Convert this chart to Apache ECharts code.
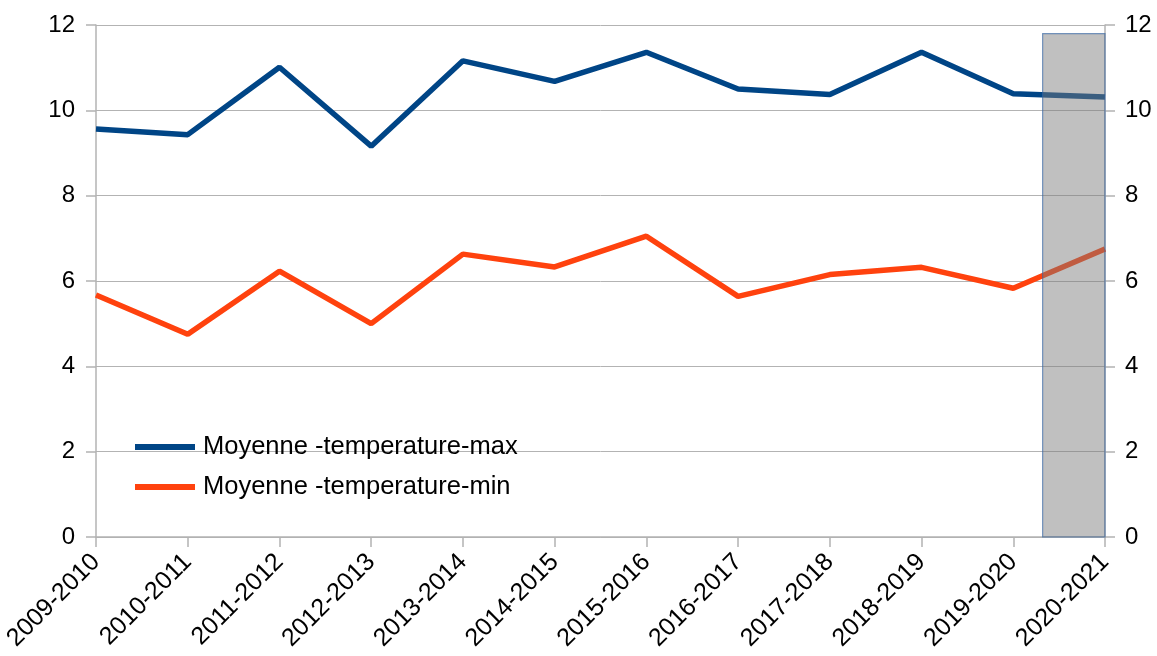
<!DOCTYPE html>
<html>
<head>
<meta charset="utf-8">
<script src="https://cdn.jsdelivr.net/npm/echarts@6/dist/echarts.min.js"></script>
<style>
  html, body { margin: 0; padding: 0; background: #fff; }
  #chart { width: 1157px; height: 656px; }
</style>
</head>
<body>
<div id="chart"></div>
<script>
// saisons
const seasons = ['2009-2010', '2010-2011', '2011-2012', '2012-2013', '2013-2014', '2014-2015',
  '2015-2016', '2016-2017', '2017-2018', '2018-2019', '2019-2020', '2020-2021'];
const tempMax = [9.56, 9.43, 11.01, 9.16, 11.16, 10.68, 11.36, 10.5, 10.37, 11.36, 10.39, 10.31];
const tempMin = [5.67, 4.75, 6.23, 5.0, 6.63, 6.33, 7.05, 5.64, 6.15, 6.32, 5.83, 6.75];
const yTicks = [0, 2, 4, 6, 8, 10, 12];
// zone grisee : [debut, fin, hauteur] en index de categorie
const highlight = [[10.32, 11, 11.8]];

const font = 'Liberation Sans, Arial, sans-serif';
const chart = echarts.init(document.getElementById('chart'));

chart.setOption({
  animation: false,
  grid: { left: 96, right: 52, top: 25, bottom: 119, outerBoundsMode: 'none', containLabel: false },
  legend: {
    left: 130, top: 429, orient: 'vertical', itemGap: 14,
    itemWidth: 60, itemHeight: 6, icon: 'rect',
    textStyle: { fontFamily: font, fontSize: 25.5, color: '#000', padding: [0, 0, 0, 3] },
    data: ['Moyenne -temperature-max', 'Moyenne -temperature-min']
  },
  xAxis: [{
    type: 'category', data: seasons, boundaryGap: false,
    axisLine: { lineStyle: { color: '#b3b3b3', width: 1.5 } },
    axisTick: { show: true, length: 10, lineStyle: { color: '#b3b3b3', width: 1.5 } },
    axisLabel: { rotate: 45, fontFamily: font, fontSize: 25, color: '#000', margin: 21, interval: 0 },
    splitLine: { show: false }
  }, {
    type: 'value', min: 0, max: seasons.length - 1, show: false
  }],
  yAxis: [{
    type: 'value', min: 0, max: 12, interval: 2,
    axisLine: { show: true, lineStyle: { color: '#b3b3b3', width: 1.5 } },
    axisTick: { show: true, length: 10, lineStyle: { color: '#b3b3b3', width: 1.5 } },
    axisLabel: { fontFamily: font, fontSize: 24, color: '#000', margin: 21 },
    splitLine: { lineStyle: { color: '#b3b3b3', width: 1 } }
  }, {
    type: 'value', min: 0, max: 12, interval: 2, position: 'right',
    axisLine: { show: true, lineStyle: { color: '#b3b3b3', width: 1.5 } },
    axisTick: { show: true, length: 10, lineStyle: { color: '#b3b3b3', width: 1.5 } },
    axisLabel: { fontFamily: font, fontSize: 24, color: '#000', margin: 20 },
    splitLine: { show: false }
  }],
  series: [{
    name: 'Moyenne -temperature-max', type: 'line', data: tempMax,
    symbol: 'none', z: 2,
    lineStyle: { color: '#004586', width: 5.5 }, itemStyle: { color: '#004586' }
  }, {
    name: 'Moyenne -temperature-min', type: 'line', data: tempMin,
    symbol: 'none', z: 2,
    lineStyle: { color: '#ff420e', width: 5.5 }, itemStyle: { color: '#ff420e' }
  }, {
    type: 'custom', xAxisIndex: 1, yAxisIndex: 1, z: 5, data: highlight,
    renderItem: (params, api) => {
      const p0 = api.coord([api.value(0), api.value(2)]);
      const p1 = api.coord([api.value(1), 0]);
      return {
        type: 'rect',
        shape: { x: p0[0], y: p0[1], width: p1[0] - p0[0], height: p1[1] - p0[1] },
        style: { fill: 'rgba(122,122,122,0.475)', stroke: 'rgba(52,101,164,0.65)', lineWidth: 1.2 }
      };
    }
  }]
});
</script>
</body>
</html>
